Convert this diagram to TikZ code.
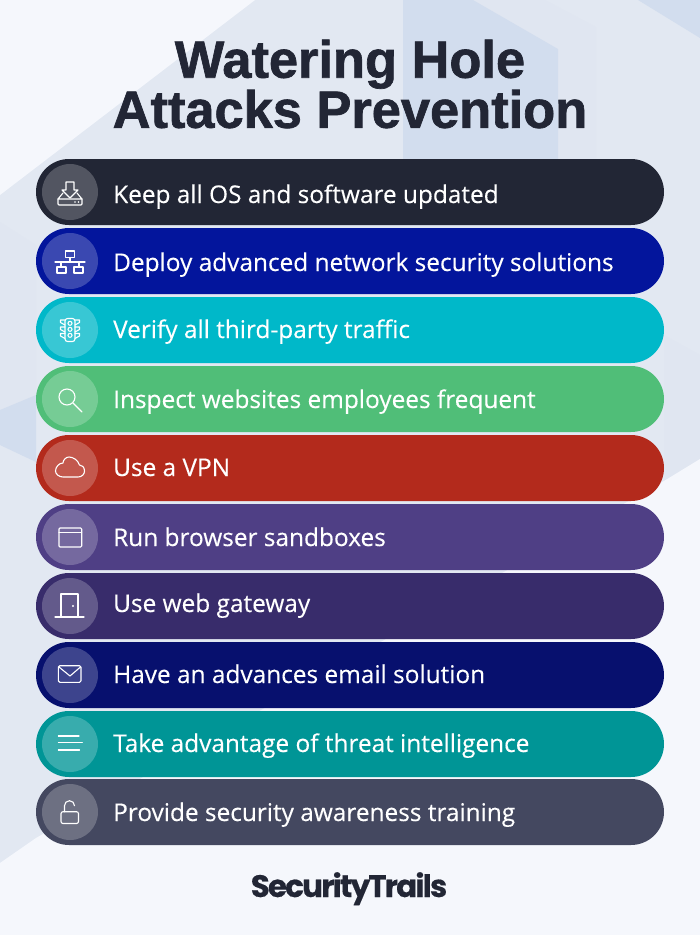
\documentclass[tikz,border=0pt]{standalone}
\usepackage{fontspec}
\setmainfont{Open Sans}
\newfontfamily\rowfont[FakeBold=0.25]{Open Sans}
\newfontfamily\titlefont[BoldFeatures={FakeBold=1.3}]{Liberation Sans}
\newfontfamily\logofont[BoldFeatures={FakeBold=0.4},LetterSpace=-6]{Poppins}
\usetikzlibrary{shapes.misc}
\definecolor{bgdark}{HTML}{E2E8F2}
\definecolor{bgmid}{HTML}{E0E6F1}
\definecolor{bglight}{HTML}{F5F7FC}
\definecolor{bgblue}{HTML}{D2DDEE}
\definecolor{inkdark}{HTML}{222635}
\definecolor{rowb}{HTML}{03159C}
\definecolor{rowc}{HTML}{00B8C9}
\definecolor{rowd}{HTML}{50BE78}
\definecolor{rowe}{HTML}{B32A1C}
\definecolor{rowf}{HTML}{4F3F85}
\definecolor{rowg}{HTML}{382C6B}
\definecolor{rowh}{HTML}{07106E}
\definecolor{rowi}{HTML}{009596}
\definecolor{rowj}{HTML}{444860}
\tikzset{
  pill/.style={rounded rectangle, minimum width=628, minimum height=66, inner sep=0pt, outer sep=0pt},
  badge/.style={circle, minimum size=56, inner sep=0pt, fill=white, fill opacity=0.22},
  lbl/.style={anchor=base west, text=white, inner sep=0pt, font=\rowfont\fontsize{24.4}{28}\selectfont},
  glyph/.style={draw=white, line width=1.1pt, line join=round, line cap=round}
}
\begin{document}
\begin{tikzpicture}[x=1pt,y=-1pt]
\useasboundingbox (0,0) rectangle (700,935);
% background
\fill[bgdark] (0,0) rectangle (700,935);
\fill[bglight] (0,0) -- (255,0) -- (0,195) -- cycle;
\fill[bgmid] (545,0) -- (596,27) -- (596,160) -- (403,160) -- (403,0) -- cycle;
\fill[bgblue] (403,0) -- (473,0) -- (558,49) -- (558,160) -- (403,160) -- cycle;
\fill[bgblue] (638,0) -- (700,0) -- (700,38) -- cycle;
\fill[bgmid] (0,222) -- (36,245) -- (36,395) -- (0,410) -- cycle;
\fill[bgblue] (0,410) -- (36,395) -- (36,462) -- (0,445) -- cycle;
\fill[bgmid] (664,335) -- (700,355) -- (700,459) -- (664,481) -- cycle;
\fill[bglight] (0,863) -- (36,838) -- (664,481) -- (700,459) -- (700,935) -- (0,935) -- cycle;
% title
\node[text=inkdark, align=center, inner sep=0pt, font=\titlefont\bfseries\fontsize{52.4}{48}\selectfont] (title) at (350,84) {Watering Hole\\Attacks Prevention};
% rows
\node[pill, fill=inkdark] (row1) at (350,192) {};
\node[pill, fill=rowb] (row2) at (350,261) {};
\node[pill, fill=rowc] (row3) at (350,330) {};
\node[pill, fill=rowd] (row4) at (350,399) {};
\node[pill, fill=rowe] (row5) at (350,468) {};
\node[pill, fill=rowf] (row6) at (350,537) {};
\node[pill, fill=rowg] (row7) at (350,606) {};
\node[pill, fill=rowh] (row8) at (350,675) {};
\node[pill, fill=rowi] (row9) at (350,744) {};
\node[pill, fill=rowj] (row10) at (350,812) {};
% badges
\node[badge] (badge1) at (70,192) {};
\node[badge] (badge2) at (70,261) {};
\node[badge] (badge3) at (70,330) {};
\node[badge] (badge4) at (70,399) {};
\node[badge] (badge5) at (70,468) {};
\node[badge] (badge6) at (70,537) {};
\node[badge] (badge7) at (70,606) {};
\node[badge] (badge8) at (70,675) {};
\node[badge] (badge9) at (70,744) {};
\node[badge] (badge10) at (70,812) {};
% labels
\node[lbl] (lbl1) at (113,203) {Keep all OS and software updated};
\node[lbl] (lbl2) at (113,271) {Deploy advanced network security solutions};
\node[lbl] (lbl3) at (113,338) {Verify all third-party traffic};
\node[lbl] (lbl4) at (113,408) {Inspect websites employees frequent};
\node[lbl] (lbl5) at (113,476) {Use a VPN};
\node[lbl] (lbl6) at (113,546) {Run browser sandboxes};
\node[lbl] (lbl7) at (113,612) {Use web gateway};
\node[lbl] (lbl8) at (113,683) {Have an advances email solution};
\node[lbl] (lbl9) at (113,752) {Take advantage of threat intelligence};
\node[lbl] (lbl10) at (113,821) {Provide security awareness training};
% icons
\begin{scope}[shift={(badge1.center)}]
\draw[glyph] (-4,-10) -- (4,-10) -- (4,-2) -- (8,-2) -- (0,6) -- (-8,-2) -- (-4,-2) -- cycle;
\draw[glyph] (-7,1) -- (-12,7) -- (12,7) -- (7,1);
\draw[glyph, rounded corners=1] (-12,7) -- (-12,13) -- (12,13) -- (12,7);
\fill[white] (5,10) circle (.8) (8.5,10) circle (.8);
\end{scope}
\begin{scope}[shift={(badge2.center)}]
\draw[glyph] (-4.5,-10) rectangle (4.5,-3.5);
\draw[glyph] (0,-3.5) -- (0,1);
\draw[glyph] (-15,1) -- (15,1);
\draw[glyph] (-9,1) -- (-9,6);
\draw[glyph] (9,1) -- (9,6);
\draw[glyph] (-13,6) rectangle (-4,12);
\draw[glyph] (4,6) rectangle (13,12);
\end{scope}
\begin{scope}[shift={(badge3.center)}]
\draw[glyph, rounded corners=2.5] (-5,-11.5) rectangle (5,11.5);
\draw[glyph] (-5,-10) -- (-9.5,-10) -- (-9.5,-7.5) -- (-5,-5);
\draw[glyph] (-5,-3) -- (-9.5,-3) -- (-9.5,-.5) -- (-5,2);
\draw[glyph] (-5,3.5) -- (-9.5,3.5) -- (-9.5,6) -- (-5,8.5);
\draw[glyph] (5,-10) -- (9.5,-10) -- (9.5,-7.5) -- (5,-5);
\draw[glyph] (5,-3) -- (9.5,-3) -- (9.5,-.5) -- (5,2);
\draw[glyph] (5,3.5) -- (9.5,3.5) -- (9.5,6) -- (5,8.5);
\draw[glyph] (0,-6.7) circle (2);
\draw[glyph] (0,-.7) circle (2);
\draw[glyph] (0,5.3) circle (2);
\end{scope}
\begin{scope}[shift={(badge4.center)}]
\draw[glyph] (-3,-2) circle (8);
\draw[glyph] (3,4) -- (12,13);
\end{scope}
\begin{scope}[shift={(badge5.center)}]
\draw[glyph] (-7,9) -- (8,9) .. controls (12,9) and (14.5,6) .. (14.5,3) .. controls (14.5,-1) and (12,-3) .. (9.5,-3) .. controls (8,-8) and (3,-11) .. (-1,-11) .. controls (-4,-11) and (-7,-8) .. (-7,-5) .. controls (-11,-5) and (-14.5,-1) .. (-14.5,3) .. controls (-14.5,6) and (-11,9) .. (-7,9) -- cycle;
\end{scope}
\begin{scope}[shift={(badge6.center)}]
\draw[glyph, rounded corners=1] (-11,-9) rectangle (11.7,10);
\draw[glyph] (-11,-4.3) -- (11.7,-4.3);
\end{scope}
\begin{scope}[shift={(badge7.center)}]
\draw[glyph] (-15,11) -- (14,11);
\draw[glyph] (-9,11) -- (-9,-12) -- (8,-12) -- (8,11);
\fill[white] (3,0) circle (1.2);
\end{scope}
\begin{scope}[shift={(badge8.center)}]
\draw[glyph, rounded corners=1.5] (-11.7,-9.3) rectangle (11,7.3);
\draw[glyph] (-11,-8) -- (0,1) -- (10.5,-8);
\end{scope}
\begin{scope}[shift={(badge9.center)}]
\draw[glyph] (-11.7,-8) -- (9,-8);
\draw[glyph] (-11.7,-1.3) -- (12.3,-1.3);
\draw[glyph] (-11.7,6) -- (9.5,6);
\end{scope}
\begin{scope}[shift={(badge10.center)}]
\draw[glyph, rounded corners=2] (-9,-.3) rectangle (8.5,11.5);
\draw[glyph] (-5.5,-.3) -- (-5.5,-6.3) arc (180:360:5);
\end{scope}
% logo
\node[text=inkdark, inner sep=0pt, anchor=base, font=\logofont\bfseries\fontsize{31}{31}\selectfont] (logo) at (349,897) {SecurityTrails};
\end{tikzpicture}
\end{document}
